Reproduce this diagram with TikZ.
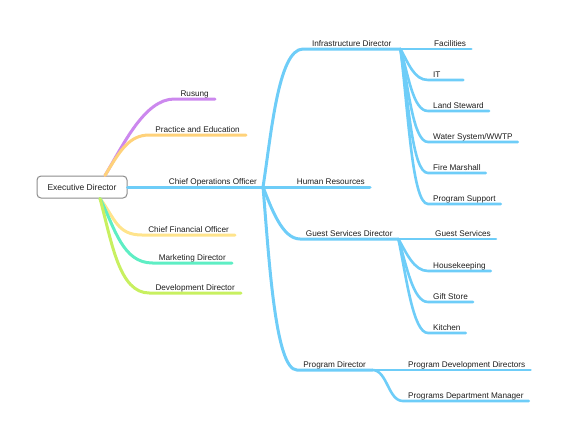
\documentclass[tikz,border=0pt]{standalone}
\usepackage{fontspec}
\setmainfont{Liberation Sans}
\usepackage{xcolor}
\usepackage{tikz}
\usetikzlibrary{positioning}

\definecolor{mapblue}{RGB}{110,205,248}
\definecolor{mappurple}{RGB}{204,136,238}
\definecolor{maporange}{RGB}{255,210,122}
\definecolor{mapyellow}{RGB}{255,228,140}
\definecolor{mapteal}{RGB}{94,238,196}
\definecolor{mapgreen}{RGB}{200,240,96}
\definecolor{maptext}{RGB}{30,30,30}

\tikzset{
  topic/.style={font=\fontsize{8.2}{9}\selectfont, text=maptext, inner xsep=5pt, inner ysep=1pt,
    text height=6pt, text depth=1.6pt},
  hub/.style={topic, anchor=south west},
  leaf/.style={topic, anchor=south west},
  sidetopic/.style={topic, anchor=south east, inner xsep=6pt},
  branch/.style={line width=3pt, line cap=round, draw=#1},
  twig/.style={line width=2.6pt, line cap=round, draw=mapblue},
}

\begin{document}
\begin{tikzpicture}[x=1pt,y=-1pt]
\useasboundingbox (0,0) rectangle (564,437);
% root
\node[draw=black!45, line width=1pt, rounded corners=4pt, fill=white, minimum width=90pt,
  minimum height=22pt, font=\fontsize{8.5}{10}\selectfont, text=maptext] (exec) at (82,187) {Executive Director};
% left side topics
\node[sidetopic] (rusung) at (215,99) {Rusung};
\node[sidetopic] (practice) at (246,135) {Practice and Education};
\node[sidetopic] (coo) at (263,187) {Chief Operations Officer};
\node[sidetopic] (cfo) at (235,235) {Chief Financial Officer};
\node[sidetopic] (market) at (232,263) {Marketing Director};
\node[sidetopic] (devel) at (241,293) {Development Director};
\draw[branch=mappurple] ([xshift=23]exec.north) .. controls +(18,-30) and +(-30,0) .. (rusung.south west) -- (rusung.south east);
\draw[branch=maporange] ([xshift=23]exec.north) .. controls +(15,-25) and +(-20,0) .. (practice.south west) -- (practice.south east);
\draw[branch=mapyellow] ([xshift=18]exec.south) .. controls +(15,20) and +(-25,0) .. (cfo.south west) -- (cfo.south east);
\draw[branch=mapteal] ([xshift=18]exec.south) .. controls +(15,30) and +(-30,0) .. (market.south west) -- (market.south east);
\draw[branch=mapgreen] ([xshift=18]exec.south) .. controls +(12,45) and +(-30,0) .. (devel.south west) -- (devel.south east);
\draw[branch=mapblue] (exec.east) -- (coo.south east);
% operations
\node[hub, minimum width=97pt] (infra) at (303,49) {Infrastructure Director};
\node[topic, anchor=south east] (hr) at (370,187) {Human Resources};
\node[hub, minimum width=98pt] (guest) at (300,239) {Guest Services Director};
\node[hub, minimum width=75pt] (progdir) at (297,370) {Program Director};
\draw[branch=mapblue] (coo.south east) .. controls +(8,-50) and +(-25,0) .. (infra.south west) -- (infra.south east);
\draw[branch=mapblue] (coo.south east) -- (hr.south east);
\draw[branch=mapblue] (coo.south east) .. controls +(8,20) and +(-18,0) .. (guest.south west) -- (guest.south east);
\draw[branch=mapblue] (coo.south east) .. controls +(6,70) and +(-22,0) .. (progdir.south west) -- (progdir.south east);
% infrastructure
\node[leaf] (facil) at (429,49) {Facilities};
\node[leaf, minimum width=35pt, align=left, text width=25pt] (it) at (428,80) {IT};
\node[leaf] (land) at (428,111) {Land Steward};
\node[leaf] (water) at (428,142) {Water System/WWTP};
\node[leaf] (fire) at (428,173) {Fire Marshall};
\node[leaf] (psupport) at (428,204) {Program Support};
\draw[twig] (infra.south east) -- (facil.south east);
\draw[twig] (infra.south east) .. controls +(8,14) and +(-14,0) .. (it.south west) -- (it.south east);
\draw[twig] (infra.south east) .. controls +(8,26) and +(-15,0) .. (land.south west) -- (land.south east);
\draw[twig] (infra.south east) .. controls +(8,38) and +(-15,0) .. (water.south west) -- (water.south east);
\draw[twig] (infra.south east) .. controls +(8,50) and +(-16,0) .. (fire.south west) -- (fire.south east);
\draw[twig] (infra.south east) .. controls +(8,62) and +(-16,0) .. (psupport.south west) -- (psupport.south east);
% guest services
\node[leaf] (gserv) at (430,239) {Guest Services};
\node[leaf] (house) at (428,271) {Housekeeping};
\node[leaf] (gift) at (428,302) {Gift Store};
\node[leaf] (kitchen) at (428,333) {Kitchen};
\draw[twig] (guest.south east) -- (gserv.south east);
\draw[twig] (guest.south east) .. controls +(8,14) and +(-14,0) .. (house.south west) -- (house.south east);
\draw[twig] (guest.south east) .. controls +(8,26) and +(-15,0) .. (gift.south west) -- (gift.south east);
\draw[twig] (guest.south east) .. controls +(8,38) and +(-15,0) .. (kitchen.south west) -- (kitchen.south east);
% programs
\node[leaf] (pdevdir) at (403,370) {Program Development Directors};
\node[leaf] (pdeptmgr) at (403,401) {Programs Department Manager};
\draw[twig] (progdir.south east) -- (pdevdir.south east);
\draw[twig] (progdir.south east) .. controls +(15,0) and +(-15,0) .. (pdeptmgr.south west) -- (pdeptmgr.south east);
\end{tikzpicture}
\end{document}
